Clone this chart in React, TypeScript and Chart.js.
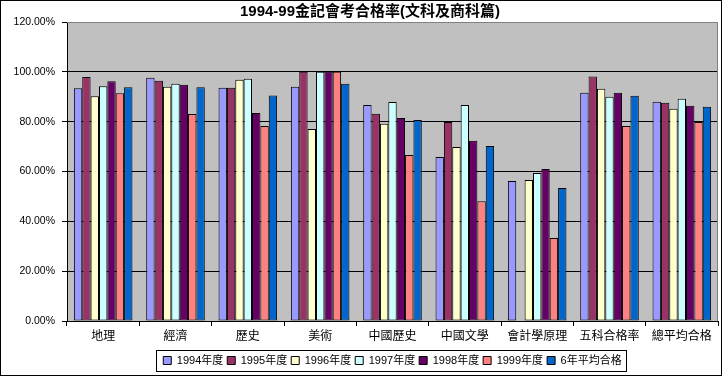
import React, { useEffect, useRef } from "react";
import { Chart, registerables } from "chart.js";

Chart.register(...registerables);

const categories = ["地理", "經濟", "歷史", "美術", "中國歷史", "中國文學", "會計學原理", "五科合格率", "總平均合格"];
const seriesNames = ["1994年度", "1995年度", "1996年度", "1997年度", "1998年度", "1999年度", "6年平均合格"];
const y1994 = [93.4, 97.6, 93.6, 94.0, 86.7, 65.8, 56.2, 91.6, 88.0];
const y1995 = [97.9, 96.4, 93.6, 100, 83.2, 79.9, null, 98.1, 87.6];
const y1996 = [90.2, 94.0, 96.8, 77.1, 79.2, 69.8, 56.6, 93.2, 85.2];
const y1997 = [94.2, 95.2, 97.2, 100, 87.9, 86.7, 59.4, 90.0, 89.2];
const y1998 = [96.2, 94.8, 83.5, 100, 81.5, 72.3, 61.0, 91.6, 86.4];
const y1999 = [91.4, 83.1, 78.3, 100, 66.6, 48.1, 33.3, 78.3, 79.9];
const avg6 = [93.8, 93.8, 90.5, 95.2, 80.7, 70.2, 53.4, 90.4, 86.0];
const colors = ["#9999FF", "#993366", "#FFFFCC", "#CCFFFF", "#660066", "#FF8080", "#0066CC"];
const titleText = "1994-99金記會考合格率(文科及商科篇)";

const FONT = "'Liberation Sans', Arial, 'Noto Sans CJK TC', sans-serif";

const decorPlugin = {
  id: "decor",
  beforeDraw(chart: any) {
    const { ctx, chartArea: a, width, height } = chart;
    ctx.save();
    ctx.fillStyle = "#FFFFFF";
    ctx.fillRect(0, 0, width, height);
    ctx.fillStyle = "#C0C0C0";
    ctx.fillRect(a.left, a.top, a.right - a.left, a.bottom - a.top);
    ctx.restore();
  },
  afterDraw(chart: any) {
    const { ctx, chartArea: a, width, height } = chart;
    ctx.save();
    ctx.strokeStyle = "#808080";
    ctx.lineWidth = 1;
    ctx.beginPath();
    ctx.moveTo(a.left, a.top + 0.5);
    ctx.lineTo(a.right - 0.5, a.top + 0.5);
    ctx.lineTo(a.right - 0.5, a.bottom);
    ctx.stroke();
    ctx.fillStyle = "#000";
    ctx.font = "bold 15px " + FONT;
    ctx.textAlign = "center";
    ctx.textBaseline = "middle";
    ctx.fillText(titleText, 370, 12);
    const lg = chart.legend;
    if (lg && lg.legendHitBoxes && lg.legendHitBoxes.length) {
      let l = Infinity, t = Infinity, r = -Infinity, b = -Infinity;
      lg.legendHitBoxes.forEach((h: any) => {
        l = Math.min(l, h.left); t = Math.min(t, h.top);
        r = Math.max(r, h.left + h.width); b = Math.max(b, h.top + h.height);
      });
      ctx.strokeStyle = "#000";
      ctx.strokeRect(Math.round(l - 7) + 0.5, Math.round(t - 5) + 0.5, Math.round(r - l + 12), Math.round(b - t + 10));
    }
    ctx.strokeStyle = "#000";
    ctx.strokeRect(0.5, 0.5, width - 1, height - 1);
    ctx.restore();
  },
};

export default function App() {
  const ref = useRef<HTMLCanvasElement | null>(null);
  useEffect(() => {
    if (!ref.current) return;
    const all = [y1994, y1995, y1996, y1997, y1998, y1999, avg6];
    const chart = new Chart(ref.current, {
      type: "bar",
      data: {
        labels: categories,
        datasets: all.map((d, i) => ({
          label: seriesNames[i],
          data: d,
          backgroundColor: colors[i],
          borderColor: "#000000",
          borderWidth: 1,
          borderSkipped: false,
          categoryPercentage: 0.81,
          barPercentage: 1.0,
        })),
      },
      options: {
        animation: false,
        responsive: false,
        maintainAspectRatio: false,
        layout: { padding: { top: 22, right: 4, left: 0, bottom: 0 } },
        plugins: {
          title: { display: false },
          tooltip: { enabled: false },
          legend: {
            position: "bottom",
            fullSize: false,
            labels: {
              boxWidth: 8,
              boxHeight: 8,
              padding: 4,
              color: "#000",
              font: { family: FONT, size: 11 },
            },
          },
        },
        scales: {
          x: {
            grid: { display: true, drawOnChartArea: false, drawTicks: true, tickLength: 5, color: "#000", offset: true },
            border: { color: "#000", width: 1 },
            ticks: { color: "#000", font: { family: FONT, size: 12 }, padding: 3, maxRotation: 0, autoSkip: false },
            afterFit: (s: any) => { s.height = 30; },
          },
          y: {
            min: 0,
            max: 120,
            ticks: {
              stepSize: 20,
              color: "#000",
              padding: 7,
              font: { family: FONT, size: 10.5 },
              callback: (v: any) => Number(v).toFixed(2) + "%",
            },
            grid: {
              color: (c: any) => (c.tick && c.tick.value === 120 ? "rgba(0,0,0,0)" : "#000"),
              tickColor: "#000",
              tickLength: 5,
            },
            border: { color: "#000", width: 1 },
            afterFit: (s: any) => { s.width = 67; },
          },
        },
      },
      plugins: [decorPlugin],
    } as any);
    return () => chart.destroy();
  }, []);
  return (
    <div style={{ position: "fixed", left: 0, top: 0, width: 722, height: 376 }}>
      <canvas ref={ref} width={722} height={376} style={{ width: 722, height: 376, display: "block" }} />
    </div>
  );
}
